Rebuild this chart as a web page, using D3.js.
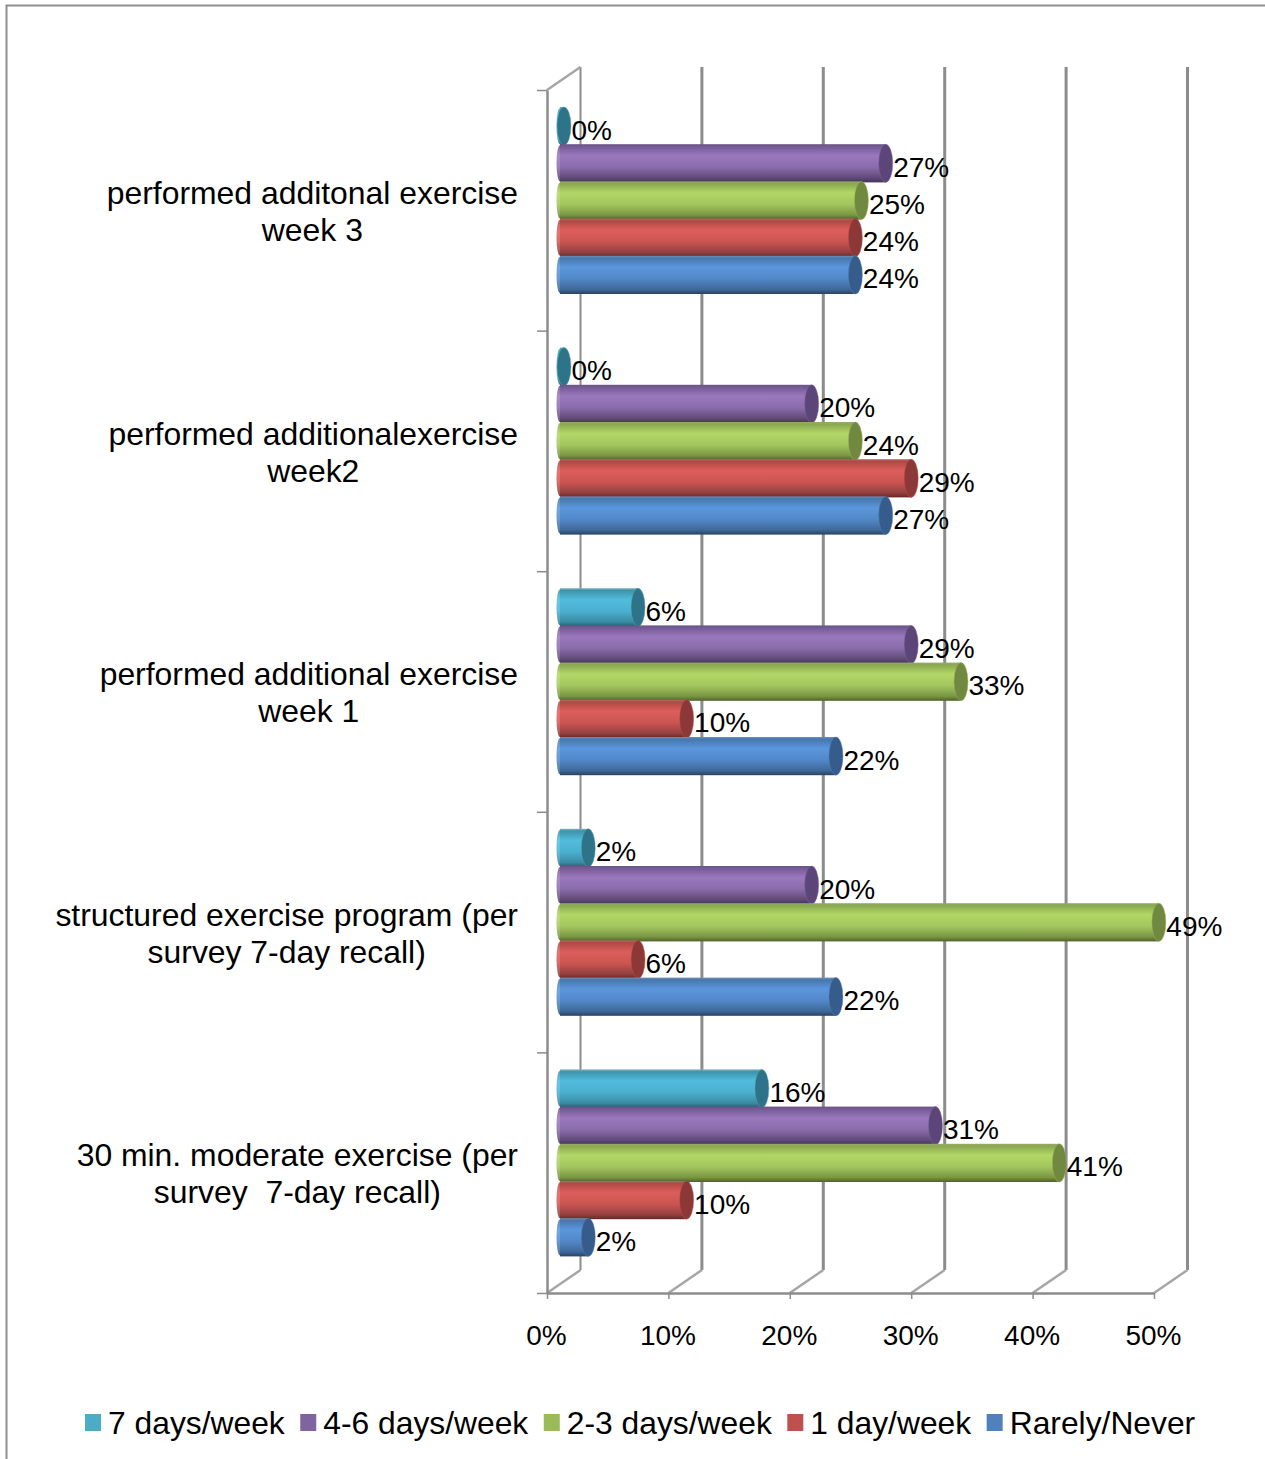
<!DOCTYPE html>
<html><head><meta charset="utf-8">
<script src="https://cdn.jsdelivr.net/npm/d3@7"></script>
<style>html,body{margin:0;padding:0;background:#fff}svg{display:block}text{font-family:"Liberation Sans",Arial,sans-serif;fill:#000}</style>
</head><body><div id="c"></div>
<script>
const categories = [
  ["performed additonal exercise","week 3"],
  ["performed additionalexercise","week2"],
  ["performed additional exercise","week 1"],
  ["structured exercise program (per","survey 7-day recall)"],
  ["30 min. moderate exercise (per","survey  7-day recall)"]
];
const seriesNames = ["7 days/week","4-6 days/week","2-3 days/week","1 day/week","Rarely/Never"];
const sevenDays = [0,0,6.1,2,16.3];
const fourToSix = [26.5,20.4,28.6,20.4,30.6];
const twoToThree = [24.5,24,32.7,49,40.8];
const oneDay = [24,28.6,10.1,6.1,10.1];
const rarely = [24,26.5,22.4,22.4,2];
const seriesValues = [sevenDays,fourToSix,twoToThree,oneDay,rarely];
const xTicks = [0,10,20,30,40,50];
const swatch = ["#4bacc6","#8064a2","#9bbb59","#c0504d","#4f81bd"];
const ramps = [
 ["#7fb2c0","#3d93ab","#52bcdc","#4bb0cf","#3a8ba4","#255f72"],
 ["#6a5484","#745a96","#9a78bd","#8a6cab","#604a78","#453557"],
 ["#95ab68","#8aa84f","#b2d766","#a3c65e","#7a9644","#506229"],
 ["#b06a68","#b04845","#dc5e5b","#cb5552","#944040","#642826"],
 ["#6f8fb6","#4777ad","#5b96dc","#5288c8","#3f6898","#284262"]
];
const capColors = ["#2f7388","#5c4679","#70883f","#8c3836","#365c8c"];

const W=1265,H=1459;
const svg=d3.select("#c").append("svg").attr("width",W).attr("height",H);
const defs=svg.append("defs");
ramps.forEach((r,i)=>{
  const g=defs.append("linearGradient").attr("id","g"+i).attr("x1",0).attr("x2",0).attr("y1",0).attr("y2",1);
  [0,.06,.3,.6,.88,1].forEach((o,k)=>g.append("stop").attr("offset",o).attr("stop-color",r[k]));
});

// frame
svg.append("path").attr("d",`M6.5,${H}V5.5H${W}`).attr("fill","none").attr("stroke","#8f8f8f").attr("stroke-width",2);

const x=d3.scaleLinear().domain([0,50]).range([547,1154]);
const yAxisScale=d3.scaleLinear().domain([0,5]).range([90,1293]);
const depthX=33.5,depthY=-23,baseY=1293,topY=90;
const band=d3.scaleBand().domain(d3.range(5)).range([90,1293]);
const inner=d3.scaleBand().domain(d3.range(5)).range([18,204]);
const gray="#8c8c8c";

// back wall
const wall=svg.append("g");
wall.selectAll("line.v").data(xTicks).join("line").attr("class","v")
  .attr("x1",d=>x(d)+depthX).attr("x2",d=>x(d)+depthX)
  .attr("y1",topY+depthY).attr("y2",baseY+depthY)
  .attr("stroke",gray).attr("stroke-width",(d,i)=>i?3:2);
wall.selectAll("line.d").data(xTicks).join("line").attr("class","d")
  .attr("x1",d=>x(d)).attr("x2",d=>x(d)+depthX)
  .attr("y1",baseY).attr("y2",baseY+depthY)
  .attr("stroke","#a6a6a6").attr("stroke-width",2.5);
wall.append("line").attr("x1",x(0)).attr("x2",x(0)+depthX).attr("y1",topY).attr("y2",topY+depthY)
  .attr("stroke","#a6a6a6").attr("stroke-width",2.5);

// axes
const style=g=>{g.selectAll("path,line").attr("stroke",gray);g.select("path").attr("stroke-width",2.5);g.selectAll("line").attr("stroke-width",1.5);};
svg.append("g").attr("transform",`translate(0,${baseY})`)
  .call(d3.axisBottom(x).tickValues(xTicks).tickSize(6).tickSizeOuter(0).tickFormat("")).call(style);
svg.append("g").attr("transform",`translate(${x(0)},0)`)
  .call(d3.axisLeft(yAxisScale).tickValues(d3.range(6)).tickSize(10).tickSizeOuter(0).tickFormat("")).call(style);
svg.append("g").selectAll("text").data(xTicks).join("text")
  .attr("x",d=>x(d)-0.5).attr("y",1345).attr("text-anchor","middle").attr("font-size",28)
  .text(d=>d+"%");

// bars
const cx=v=>x(v)+17, capRx=7, left=x(0)+13;
const rows=[];
seriesValues.forEach((vals,s)=>vals.forEach((v,c)=>rows.push({s,c,v,y:band(c)+inner(s)-1,h:inner.bandwidth()+1})));
const bars=svg.append("g").selectAll("g").data(rows).join("g");
bars.append("ellipse").attr("cx",left).attr("cy",d=>d.y+d.h/2).attr("rx",3.5).attr("ry",d=>d.h/2-1)
  .attr("fill",d=>`url(#g${d.s})`).attr("opacity",.85);
bars.append("rect").attr("x",left).attr("y",d=>d.y).attr("height",d=>d.h)
  .attr("width",d=>Math.max(0,cx(d.v)-left)).attr("fill",d=>`url(#g${d.s})`);
bars.append("ellipse").attr("cx",d=>cx(d.v)).attr("cy",d=>d.y+d.h/2).attr("rx",capRx).attr("ry",d=>d.h/2)
  .attr("fill",d=>capColors[d.s]).attr("stroke",d=>swatch[d.s]).attr("stroke-opacity",.45).attr("stroke-width",1);

// data labels
svg.append("g").selectAll("text").data(rows).join("text")
  .attr("x",d=>cx(d.v)+capRx+0.5).attr("y",d=>d.y+d.h/2+13.5).attr("font-size",28)
  .text(d=>Math.round(d.v)+"%");

// category labels
const catG=svg.append("g").selectAll("g").data(categories).join("g");
catG.each(function(lines,i){
  const g=d3.select(this), base=band(i)+114;
  const a=g.append("text").attr("x",518).attr("y",base).attr("text-anchor","end").attr("font-size",31.9).text(lines[0]);
  const w=a.node().getComputedTextLength();
  g.append("text").attr("x",518-w/2).attr("y",base+37).attr("text-anchor","middle").attr("font-size",31.9)
    .style("white-space","pre").text(lines[1]);
});

// legend
let lx=85;
const leg=svg.append("g");
seriesNames.forEach((n,i)=>{
  leg.append("rect").attr("x",lx).attr("y",1414).attr("width",16).attr("height",17).attr("fill",swatch[i]);
  const t=leg.append("text").attr("x",lx+23).attr("y",1434).attr("font-size",31.8).text(n);
  lx+=23+t.node().getComputedTextLength()+15.5;
});
</script></body></html>
